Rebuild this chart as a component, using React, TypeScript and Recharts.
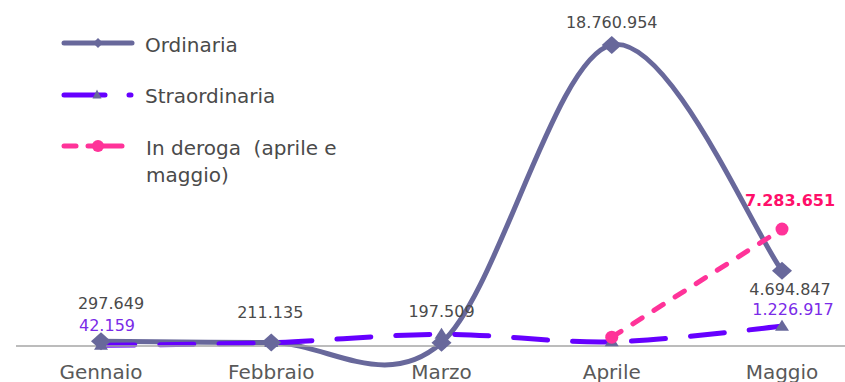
import React from 'react';
import { LineChart, Line, XAxis, YAxis, Legend } from 'recharts';

// ---- data ----
const categories = ['Gennaio', 'Febbraio', 'Marzo', 'Aprile', 'Maggio'];
const ordinaria = [297649, 211135, 197509, 18760954, 4694847];
const straordinaria = [42159, 210000, 730000, 260000, 1226917];
const deroga: (number | null)[] = [null, null, null, 550000, 7283651];
const seriesNames = ['Ordinaria', 'Straordinaria', 'In deroga  (aprile e', 'maggio)'];
const straordinariaLabelShown = [true, false, false, false, true];
const derogaLabelShown = [false, false, false, false, true];

const data = categories.map((name, i) => ({
  name,
  ordinaria: ordinaria[i],
  straordinaria: straordinaria[i],
  deroga: deroga[i],
}));

// ---- styles ----
const FONT = '"DejaVu Sans", sans-serif';
const ORD = '#68689B';
const STR = '#6600FF';
const DER = '#FF3399';
const LABEL_GREY = '#4A4A4A';
const STR_LABEL = '#7A2BE8';
const DER_LABEL = '#FF0F6A';

const ordLabelOffsets = [[10, -37.5], [-1, -30], [0, -31], [0, -22.5], [8, 19]];
const strLabelOffsets = [[6, -20], [0, 0], [0, 0], [0, 0], [11, -17]];
const derLabelOffsets = [[0, 0], [0, 0], [0, 0], [0, 0], [8, -29]];

const fmt = (v: number) => String(Math.round(v)).replace(/\B(?=(\d{3})+(?!\d))/g, '.');

// Excel-like smooth curve (Catmull-Rom)
const smooth = (ctx: any) => {
  let pts: [number, number][] = [];
  return {
    areaStart() {},
    areaEnd() {},
    lineStart() {
      pts = [];
    },
    point(x: number, y: number) {
      pts.push([+x, +y]);
    },
    lineEnd() {
      if (!pts.length) return;
      ctx.moveTo(pts[0][0], pts[0][1]);
      if (pts.length === 2) {
        ctx.lineTo(pts[1][0], pts[1][1]);
        return;
      }
      for (let i = 0; i < pts.length - 1; i++) {
        const p0 = pts[Math.max(0, i - 1)];
        const p1 = pts[i];
        const p2 = pts[i + 1];
        const p3 = pts[Math.min(pts.length - 1, i + 2)];
        ctx.bezierCurveTo(
          p1[0] + (p2[0] - p0[0]) / 6,
          p1[1] + (p2[1] - p0[1]) / 6,
          p2[0] - (p3[0] - p1[0]) / 6,
          p2[1] - (p3[1] - p1[1]) / 6,
          p2[0],
          p2[1]
        );
      }
    },
  };
};

const diamond = (cx: number, cy: number, rx: number, ry: number, fill: string, key?: any) => (
  <polygon key={key} points={`${cx},${cy - ry} ${cx + rx},${cy} ${cx},${cy + ry} ${cx - rx},${cy}`} fill={fill} />
);
const triangle = (cx: number, cy: number, w: number, h: number, fill: string, key?: any) => (
  <polygon key={key} points={`${cx},${cy - h * 0.6} ${cx + w / 2},${cy + h * 0.4} ${cx - w / 2},${cy + h * 0.4}`} fill={fill} />
);

const OrdDot = (p: any) => (p.cx == null || p.cy == null ? <g key={p.key} /> : diamond(p.cx, p.cy, 10, 9, ORD, p.key));
const StrDot = (p: any) => (p.cx == null || p.cy == null ? <g key={p.key} /> : triangle(p.cx, p.cy, 14, 11, ORD, p.key));
const DerDot = (p: any) =>
  p.cx == null || p.cy == null || p.value == null ? <g key={p.key} /> : <circle key={p.key} cx={p.cx} cy={p.cy} r={6.5} fill={DER} />;

const makeLabel = (offsets: number[][], shown: boolean[] | null, color: string, weight: string) => (p: any) => {
  const i = p.index;
  if (p.value == null || (shown && !shown[i])) return <g key={`l${i}`} />;
  const [dx, dy] = offsets[i];
  return (
    <text
      key={`l${i}`}
      x={p.x + dx}
      y={p.y + dy}
      textAnchor="middle"
      dominantBaseline="central"
      fontFamily={FONT}
      fontSize={16}
      fontWeight={weight}
      fill={color}
    >
      {fmt(p.value)}
    </text>
  );
};

const renderLegend = () => {
  const textStyle: any = { fontFamily: FONT, fontSize: 20, fill: '#4A4A4A', whiteSpace: 'pre' };
  return (
    <svg width={420} height={200} style={{ display: 'block' }}>
      <line x1={64} y1={43} x2={132} y2={43} stroke={ORD} strokeWidth={5} strokeLinecap="round" />
      {diamond(98, 43, 5, 5, ORD)}
      <text x={145} y={52} style={textStyle}>{seriesNames[0]}</text>

      <line x1={64} y1={95} x2={131} y2={95} stroke={STR} strokeWidth={5} strokeLinecap="round" strokeDasharray="41 24" />
      {triangle(97, 95, 9, 9, ORD)}
      <text x={145} y={103} style={textStyle}>{seriesNames[1]}</text>

      <line x1={64} y1={146} x2={76} y2={146} stroke={DER} strokeWidth={5} strokeLinecap="round" />
      <line x1={88} y1={146} x2={122} y2={146} stroke={DER} strokeWidth={5} strokeLinecap="round" />
      <circle cx={98} cy={146} r={6} fill={DER} />
      <text x={146} y={155} style={textStyle}>{seriesNames[2]}</text>
      <text x={146} y={182} style={textStyle}>{seriesNames[3]}</text>
    </svg>
  );
};

export default function App() {
  return (
    <div style={{ position: 'absolute', left: 0, top: 0, width: 845, height: 382, overflow: 'hidden', background: '#fff' }}>
      <LineChart width={867} height={382} data={data} margin={{ top: 25, right: 0, left: 16, bottom: 6 }}>
        <XAxis
          dataKey="name"
          height={30}
          padding={{ left: 85, right: 85 }}
          tickLine={false}
          axisLine={{ stroke: '#A6A6A6', strokeWidth: 1.5 }}
          tickMargin={13}
          interval={0}
          tick={{ fill: '#595959', fontSize: 20, fontFamily: FONT }}
        />
        <YAxis hide type="number" domain={[0, 20000000]} />
        <Legend
          layout="vertical"
          align="center"
          verticalAlign="middle"
          content={renderLegend}
          wrapperStyle={{ position: 'absolute', left: 0, top: 0, width: 420, height: 200 }}
        />
        <Line
          name="Ordinaria"
          dataKey="ordinaria"
          type={smooth as any}
          stroke={ORD}
          strokeWidth={5}
          dot={OrdDot}
          activeDot={false}
          label={makeLabel(ordLabelOffsets, null, LABEL_GREY, 'normal')}
          isAnimationActive={false}
        />
        <Line
          name="Straordinaria"
          dataKey="straordinaria"
          type={smooth as any}
          stroke={STR}
          strokeWidth={5}
          strokeDasharray="34 25"
          strokeLinecap="round"
          dot={StrDot}
          activeDot={false}
          label={makeLabel(strLabelOffsets, straordinariaLabelShown, STR_LABEL, 'normal')}
          isAnimationActive={false}
        />
        <Line
          name="In deroga (aprile e maggio)"
          dataKey="deroga"
          type="linear"
          stroke={DER}
          strokeWidth={5}
          strokeDasharray="11 14"
          strokeLinecap="round"
          dot={DerDot}
          activeDot={false}
          label={makeLabel(derLabelOffsets, derogaLabelShown, DER_LABEL, 'bold')}
          isAnimationActive={false}
        />
      </LineChart>
    </div>
  );
}
